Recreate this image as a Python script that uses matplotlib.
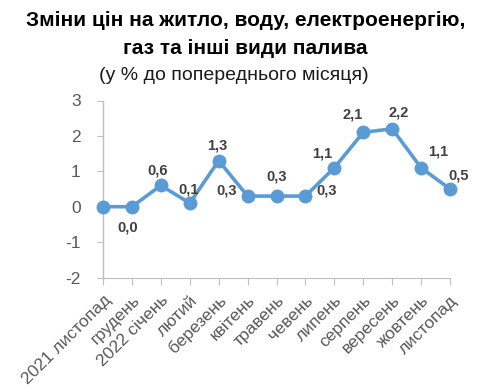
import matplotlib
matplotlib.use("Agg")
import matplotlib.pyplot as plt

categories = ["2021 листопад", "грудень", "2022 січень", "лютий", "березень", "квітень",
              "травень", "чевень", "липень", "серпень", "вересень", "жовтень", "листопад"]
values = [0.0, 0.0, 0.6, 0.1, 1.3, 0.3, 0.3, 0.3, 1.1, 2.1, 2.2, 1.1, 0.5]
show_label = [False, True, True, True, True, True, True, True, True, True, True, True, True]
yticks = [-2, -1, 0, 1, 2, 3]

# label offsets in points (styling)
offsets = [(0, 0), (-3, -15), (-2, 11), (-1, 10), (-1, 11), (-15, 4), (0, 14), (15, 4),
           (-9, 10), (-8, 13), (5, 12), (12, 12), (6, 10)]

line_color = "#5B9BD5"
font = "Liberation Sans"

fig = plt.figure(figsize=(4.8, 3.88), dpi=100)
ax = fig.add_axes([103/480, 1-277.5/388, (450-103)/480, (277.5-100.5)/388])

x = list(range(len(categories)))
ax.plot(x, values, color=line_color, lw=2.6, marker="o", ms=9, clip_on=False, zorder=3)

for i, (v, s) in enumerate(zip(values, show_label)):
    if s:
        ax.annotate(f"{v:.1f}".replace(".", ","), (i, v), xytext=offsets[i],
                    textcoords="offset points", ha="center", va="center",
                    fontsize=10.5, fontweight="bold", color="#404040", family=font)

ax.set_xlim(0, len(categories) - 1)
ax.set_ylim(-2, 3)
ax.set_yticks(yticks)
ax.set_yticklabels([str(t) for t in yticks], family=font, fontsize=12.5, color="#595959")
ax.tick_params(axis="y", length=4, color="#BFBFBF", pad=12)

for sp in ["top", "right", "bottom"]:
    ax.spines[sp].set_visible(False)
ax.spines["left"].set_color("#BFBFBF")
ax.spines["left"].set_linewidth(1)

ax.set_xticks(x)
ax.set_xticklabels(categories, rotation=45, ha="right", rotation_mode="anchor",
                   family=font, fontsize=12.5, color="#595959")
ax.tick_params(axis="x", length=0, pad=11)

sec = ax.secondary_xaxis(0)
sec.set_xticks(x)
sec.set_xticklabels([])
sec.tick_params(axis="x", length=5, color="#BFBFBF", direction="out")
sec.spines["bottom"].set_color("#BFBFBF")

fig.text(246/480, 1-21/388, "Зміни цін на житло, воду, електроенергію,", ha="center", va="center",
         fontsize=15, fontweight="bold", family=font, color="#000000")
fig.text(245/480, 1-48/388, "газ та інші види палива", ha="center", va="center",
         fontsize=15, fontweight="bold", family=font, color="#000000")
fig.text(234/480, 1-75/388, "(у % до попереднього місяця)", ha="center", va="center",
         fontsize=14, family=font, color="#1a1a1a")

fig.savefig("out.png", dpi=100)
